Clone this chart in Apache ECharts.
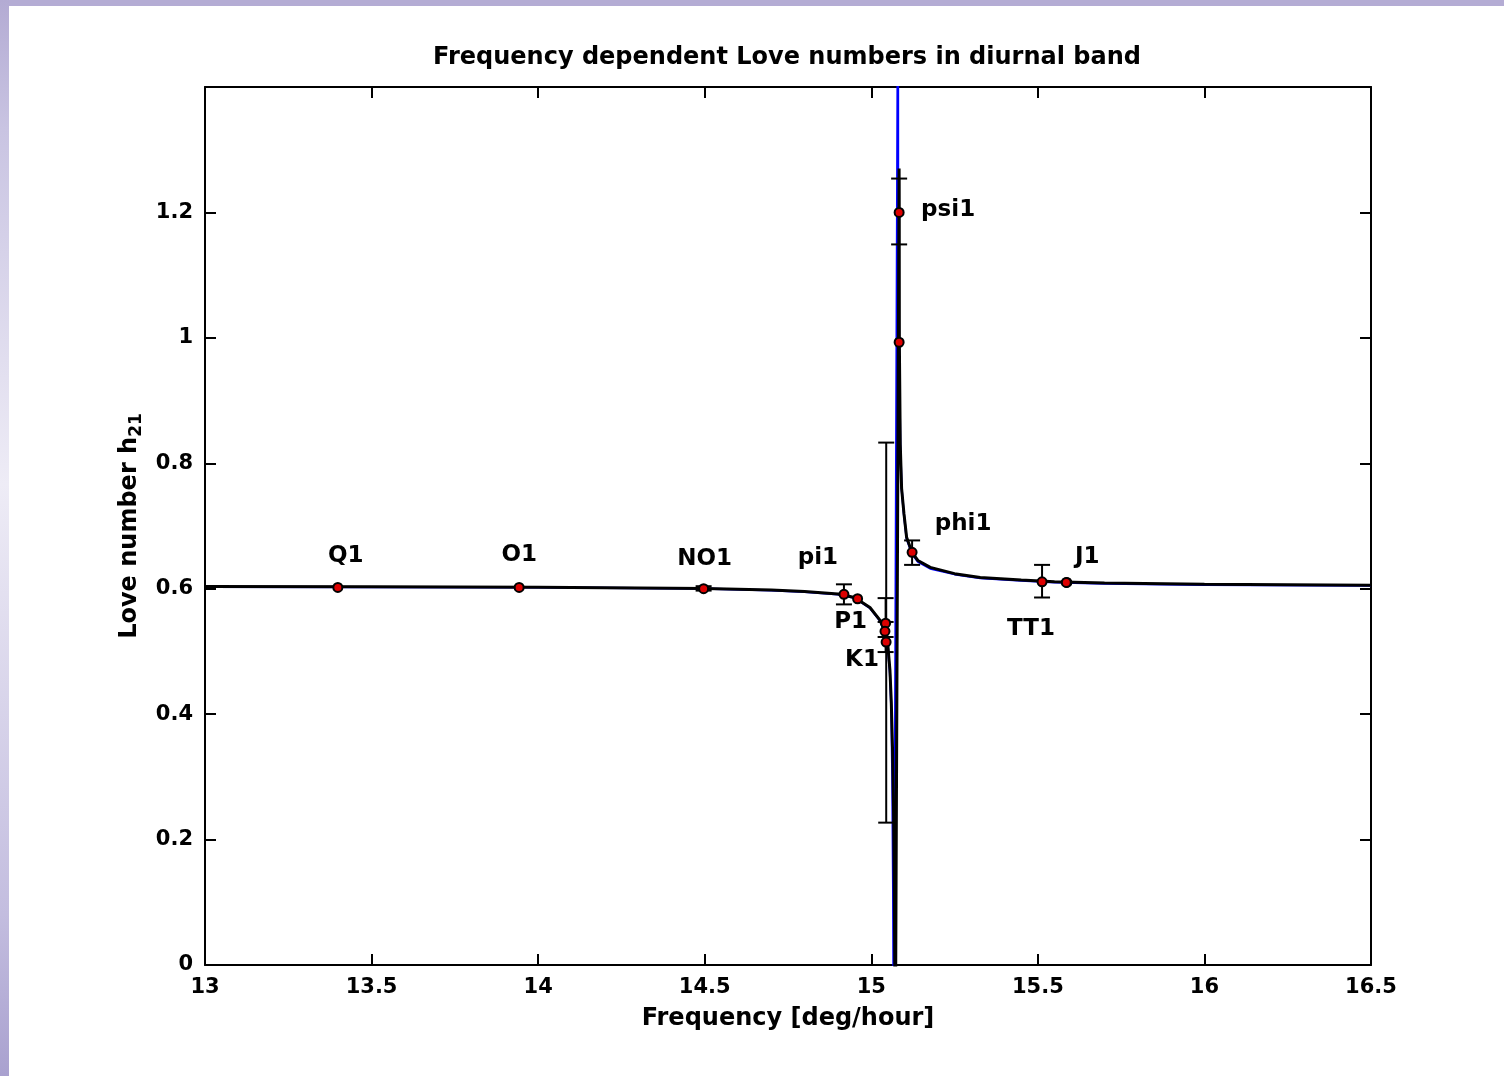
<!DOCTYPE html>
<html>
<head>
<meta charset="utf-8">
<script src="https://cdn.jsdelivr.net/npm/echarts@6/dist/echarts.min.js"></script>
<style>
html,body{margin:0;padding:0;background:#fff;}
#chart{width:1504px;height:1076px;}
</style>
</head>
<body>
<div id="chart"></div>
<script>
// ---- data ----
const xTicks = [13, 13.5, 14, 14.5, 15, 15.5, 16, 16.5];
const yTicks = [0, 0.2, 0.4, 0.6, 0.8, 1, 1.2];

// black curve (model fit)
const blackF = [13.0, 13.5, 14.0, 14.5, 14.7, 14.8, 14.9, 14.95, 14.996, 15.026, 15.041, 15.050, 15.056, 15.060, 15.064, 15.067, 15.069, 15.0705, 15.071,
                15.0835, 15.0838, 15.0843, 15.087, 15.091, 15.098, 15.106, 15.122, 15.14, 15.177, 15.25, 15.327, 15.45, 15.55, 15.7, 16.0, 16.5];
const blackH = [0.6035, 0.603, 0.6025, 0.6005, 0.598, 0.5955, 0.5915, 0.586, 0.570, 0.550, 0.532, 0.508, 0.470, 0.420, 0.340, 0.240, 0.120, 0.0, -0.3,
                1.27, 1.20, 0.99, 0.83, 0.76, 0.72, 0.682, 0.658, 0.645, 0.634, 0.624, 0.618, 0.614, 0.611, 0.609, 0.607, 0.6055];

// blue curve (theoretical)
const blueF = [13.0, 13.5, 14.0, 14.5, 14.7, 14.8, 14.9, 14.95, 14.996, 15.026, 15.041, 15.050, 15.056, 15.060, 15.063, 15.0655, 15.0664, 15.0667,
               15.0789, 15.0790, 15.0805, 15.082, 15.084, 15.087, 15.091, 15.098, 15.106, 15.122, 15.14, 15.177, 15.25, 15.327, 15.45, 15.55, 15.7, 16.0, 16.5];
const blueH = [0.6030, 0.6025, 0.602, 0.600, 0.5975, 0.595, 0.591, 0.5855, 0.569, 0.549, 0.530, 0.505, 0.465, 0.410, 0.300, 0.120, 0.0, -0.3,
               1.42, 3.0, 1.24, 1.10, 0.95, 0.83, 0.76, 0.718, 0.680, 0.656, 0.643, 0.632, 0.623, 0.617, 0.613, 0.610, 0.608, 0.606, 0.605];

// observed tidal constituents
const constituents = ['Q1', 'O1', 'NO1', 'pi1', 'P1', 'K1', 'psi1', 'phi1', 'TT1', 'J1'];
const constFreq = [13.3987, 13.9430, 14.4967, 14.9179, 14.9589, 15.0411, 15.0836, 15.1225, 15.5126, 15.5854];
const constH = [0.602, 0.602, 0.600, 0.591, 0.584, 0.532, 1.200, 0.658, 0.611, 0.610];

// additional estimates without label
const extraFreq = [15.0836, 15.0430, 15.0445, 15.5870];
const extraH = [0.993, 0.545, 0.515, 0.610];

// error bars
const errFreq = [14.4967, 14.9179, 15.0448, 15.0430, 15.0430, 15.0836, 15.1225, 15.5126];
const errLow  = [0.597, 0.575, 0.227, 0.523, 0.499, 1.149, 0.638, 0.586];
const errHigh = [0.604, 0.607, 0.833, 0.585, 0.547, 1.254, 0.677, 0.638];

// ---- label placement (pixels, relative to point) ----
const labelOffsets = [[8,-31],[0,-32],[1,-30],[-26,-36],[-7,23],[-23,29],[49,-2],[51,-28],[-11,47],[21,-25]];

const zip = (a, b) => a.map((v, i) => [v, b[i]]);

const chart = echarts.init(document.getElementById('chart'), null, {renderer: 'canvas'});
const FONT = 'DejaVu Sans, Verdana, sans-serif';
const FS = 21;     // tick labels
const FS_L = 24;   // title & axis names
const FS_T = 23;   // constituent labels
const axisCommon = {
  axisLine: {show: true, onZero: false, lineStyle: {color: '#000', width: 2}},
  axisTick: {show: true, inside: true, length: 11, lineStyle: {color: '#000', width: 2}},
  splitLine: {show: false}
};

const option = {
  backgroundColor: '#fff',
  animation: false,
  graphic: [
    {type: 'rect', left: 0, top: 0, shape: {width: 1504, height: 6}, style: {fill: '#b4acd4'}, silent: true},
    {type: 'rect', left: 0, top: 0, shape: {width: 9, height: 1076}, silent: true,
     style: {fill: new echarts.graphic.LinearGradient(0, 0, 0, 1, [
        {offset: 0, color: '#b3abd3'}, {offset: 0.12, color: '#c9c4e2'}, {offset: 0.45, color: '#eeecf6'},
        {offset: 0.85, color: '#c3bddf'}, {offset: 1, color: '#a9a1cf'}])}}
  ],
  title: {
    text: 'Frequency dependent Love numbers in diurnal band',
    left: 782, top: 41, textAlign: 'center',
    textStyle: {fontFamily: FONT, fontWeight: 'bold', fontSize: FS_L, color: '#000'}
  },
  grid: {left: 205, right: 133, top: 87, bottom: 111, containLabel: false},
  xAxis: [
    Object.assign({
      type: 'value', min: xTicks[0], max: xTicks[xTicks.length - 1], interval: 0.5,
      name: 'Frequency [deg/hour]', nameLocation: 'middle', nameGap: 42,
      nameTextStyle: {fontFamily: FONT, fontWeight: 'bold', fontSize: FS_L, color: '#000'},
      axisLabel: {margin: 12, fontFamily: FONT, fontWeight: 'bold', fontSize: FS, color: '#000'}
    }, axisCommon),
    Object.assign({
      type: 'value', position: 'top', min: xTicks[0], max: xTicks[xTicks.length - 1], interval: 0.5,
      axisLabel: {show: false}
    }, axisCommon)
  ],
  yAxis: [
    Object.assign({
      type: 'value', min: 0, max: 1.4, interval: 0.2,
      name: 'Love number h{sub|21}', nameLocation: 'middle', nameGap: 41, nameRotate: 90,
      nameTextStyle: {fontFamily: FONT, fontWeight: 'bold', fontSize: FS_L, color: '#000',
        rich: {sub: {fontFamily: FONT, fontWeight: 'bold', fontSize: 17, color: '#000', padding: [14, 0, 0, 0]}}},
      axisLabel: {margin: 12, showMaxLabel: false, fontFamily: FONT, fontWeight: 'bold', fontSize: FS, color: '#000'}
    }, axisCommon),
    Object.assign({
      type: 'value', position: 'right', min: 0, max: 1.4, interval: 0.2,
      axisLabel: {show: false}
    }, axisCommon)
  ],
  series: [
    {type: 'line', data: zip(blueF, blueH), showSymbol: false, symbol: 'none', clip: true,
     lineStyle: {color: '#0000ff', width: 2.2}, z: 2},
    {type: 'line', data: zip(blackF, blackH), showSymbol: false, symbol: 'none', clip: true,
     lineStyle: {color: '#000', width: 3}, z: 3},
    {type: 'custom', data: errFreq.map((f, i) => [f, errLow[i], errHigh[i]]), z: 4,
     renderItem: function (params, api) {
       const a = api.coord([api.value(0), api.value(1)]);
       const b = api.coord([api.value(0), api.value(2)]);
       const w = 8;
       const st = {stroke: '#000', lineWidth: 2};
       return {type: 'group', children: [
         {type: 'line', shape: {x1: a[0], y1: a[1], x2: b[0], y2: b[1]}, style: st},
         {type: 'line', shape: {x1: a[0] - w, y1: a[1], x2: a[0] + w, y2: a[1]}, style: st},
         {type: 'line', shape: {x1: b[0] - w, y1: b[1], x2: b[0] + w, y2: b[1]}, style: st}
       ]};
     }},
    {type: 'scatter', data: zip(extraFreq, extraH), symbol: 'circle', symbolSize: 9, z: 5,
     itemStyle: {color: '#dd0000', borderColor: '#000', borderWidth: 2, opacity: 1}},
    {type: 'scatter', z: 6, symbol: 'circle', symbolSize: 9,
     itemStyle: {color: '#dd0000', borderColor: '#000', borderWidth: 2, opacity: 1},
     label: {show: true, position: 'inside', formatter: '{b}', fontFamily: FONT, fontWeight: 'bold',
       fontSize: FS_T, color: '#000', opacity: 1, textBorderWidth: 0},
     data: constituents.map((name, i) => ({
       name: name, value: [constFreq[i], constH[i]],
       label: {offset: labelOffsets[i]}
     }))}
  ]
};
chart.setOption(option);
</script>
</body>
</html>
